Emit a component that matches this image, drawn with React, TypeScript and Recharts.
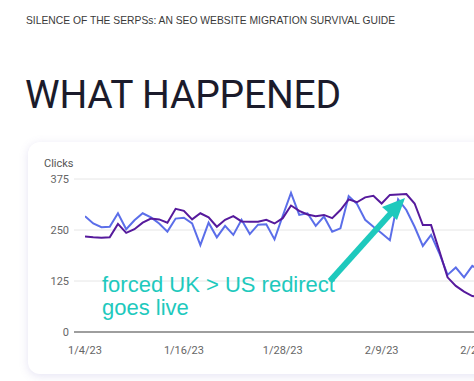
import { CartesianGrid, Line, LineChart, XAxis, YAxis } from "recharts";

// daily clicks, day 0 = 1/4/23
const currentClicks = [
  284, 266, 257, 258, 291, 252, 274, 291, 281, 266, 246, 278, 280, 266, 213, 268, 232, 260, 238, 275,
  240, 263, 264, 227, 285, 341, 287, 291, 260, 283, 246, 254, 333, 314, 275, 258, 242, 225, 325, 299,
  258, 211, 238, 193, 140, 158, 134, 162, 150, 165,
];
const previousClicks = [
  234, 232, 231, 232, 265, 243, 252, 268, 278, 276, 268, 302, 297, 276, 291, 281, 258, 275, 284, 271,
  270, 270, 275, 266, 279, 310, 297, 288, 284, 287, 279, 299, 325, 318, 330, 334, 315, 336, 337, 338,
  315, 262, 262, 199, 134, 113, 99, 88, 85, 84,
];
const tickDays = [0, 12, 24, 36, 48];
const tickLabels = ["1/4/23", "1/16/23", "1/28/23", "2/9/23", "2/21/23"];
const yTicks = [0, 125, 250, 375];

const chartData = currentClicks.map((v, i) => ({
  day: i,
  current: v,
  previous: previousClicks[i],
}));

const tickStyle = { fontFamily: "Roboto, sans-serif", fontSize: 11, fill: "#666" };

export default function App() {
  return (
    <div style={{ position: "fixed", left: 0, top: 0, width: 474, height: 381, overflow: "hidden", background: "#fff" }}>
      <div
        style={{
          position: "absolute",
          left: 26,
          top: 15,
          fontFamily: "'Liberation Sans', Arial, sans-serif",
          fontSize: 10.3,
          color: "#3a3a3a",
          whiteSpace: "nowrap",
        }}
      >
        SILENCE OF THE SERPSs: AN SEO WEBSITE MIGRATION SURVIVAL GUIDE
      </div>
      <div
        style={{
          position: "absolute",
          left: 25,
          top: 72,
          fontFamily: "Roboto, sans-serif",
          fontSize: 39,
          color: "#1b1b2b",
          whiteSpace: "nowrap",
          letterSpacing: -0.2,
        }}
      >
        WHAT HAPPENED
      </div>

      <div
        style={{
          position: "absolute",
          left: 28,
          top: 142,
          width: 520,
          height: 232,
          borderRadius: 12,
          background: "#fff",
          boxShadow: "0 2px 10px rgba(110, 100, 190, 0.18)",
        }}
      />
      <div
        style={{
          position: "absolute",
          left: 44,
          top: 157,
          fontFamily: "Roboto, sans-serif",
          fontSize: 11,
          color: "#555",
        }}
      >
        Clicks
      </div>

      <div style={{ position: "absolute", left: 0, top: 0 }}>
        <LineChart width={497} height={381} data={chartData} margin={{ top: 179, right: 0, bottom: 19, left: 0 }}>
          <CartesianGrid vertical={false} stroke="#e6e6e6" strokeWidth={1} />
          <XAxis
            dataKey="day"
            type="number"
            domain={[0, 50]}
            ticks={tickDays}
            tickFormatter={(d: number) => tickLabels[tickDays.indexOf(d)]}
            padding={{ left: 11, right: 0 }}
            height={30}
            tickSize={0}
            tickMargin={14}
            axisLine={{ stroke: "#9e9e9e", strokeWidth: 2 }}
            tick={tickStyle}
            allowDataOverflow
          />
          <YAxis
            width={74}
            domain={[0, 375]}
            ticks={yTicks}
            tickSize={0}
            tickMargin={5}
            axisLine={false}
            tickLine={false}
            tick={tickStyle}
          />
          <Line dataKey="current" stroke="#5b6ee9" strokeWidth={2} dot={false} isAnimationActive={false} />
          <Line dataKey="previous" stroke="#561a9c" strokeWidth={2} dot={false} isAnimationActive={false} />
        </LineChart>
      </div>

      <div
        style={{
          position: "absolute",
          left: 102,
          top: 273,
          fontFamily: "'Liberation Sans', Arial, sans-serif",
          fontSize: 22,
          lineHeight: "23px",
          color: "#1ec9bd",
          whiteSpace: "nowrap",
        }}
      >
        forced UK &gt; US redirect
        <br />
        goes live
      </div>
      <svg style={{ position: "absolute", left: 0, top: 0 }} width={474} height={381}>
        <line x1={330} y1={281} x2={392} y2={212} stroke="#1ec9bd" strokeWidth={6} strokeLinecap="butt" />
        <polygon points="405,198 382,207 397,220" fill="#1ec9bd" />
      </svg>
    </div>
  );
}
